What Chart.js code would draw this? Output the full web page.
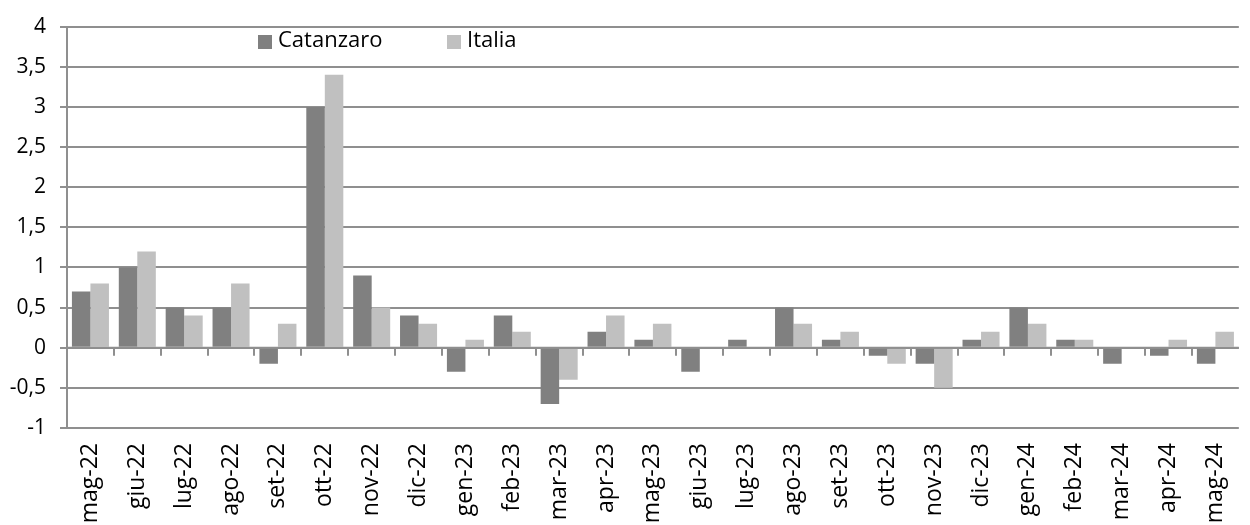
<!DOCTYPE html>
<html>
<head>
<meta charset="utf-8">
<script src="https://cdn.jsdelivr.net/npm/chart.js@4.4.1/dist/chart.umd.min.js"></script>
<style>
html,body{margin:0;padding:0;background:#fff;}
#wrap{width:1250px;height:525px;}
</style>
</head>
<body>
<div id="wrap"><canvas id="c" width="1250" height="525"></canvas></div>
<script>
const categories = ["mag-22","giu-22","lug-22","ago-22","set-22","ott-22","nov-22","dic-22","gen-23","feb-23","mar-23","apr-23","mag-23","giu-23","lug-23","ago-23","set-23","ott-23","nov-23","dic-23","gen-24","feb-24","mar-24","apr-24","mag-24"];
const catanzaro = [0.7,1.0,0.5,0.5,-0.2,3.0,0.9,0.4,-0.3,0.4,-0.7,0.2,0.1,-0.3,0.1,0.5,0.1,-0.1,-0.2,0.1,0.5,0.1,-0.2,-0.1,-0.2];
const italia = [0.8,1.2,0.4,0.8,0.3,3.4,0.5,0.3,0.1,0.2,-0.4,0.4,0.3,0,0,0.3,0.2,-0.2,-0.5,0.2,0.3,0.1,0,0.1,0.2];
const yMin = -1, yMax = 4, yStep = 0.5;

const FONT = "'Open Sans', 'Noto Sans', sans-serif";
const GRID = '#8f8f8f';

const zeroTicks = {
  id: 'zeroTicks',
  afterDatasetsDraw(chart) {
    const {ctx, scales:{x, y}} = chart;
    const y0 = y.getPixelForValue(0);
    ctx.save();
    ctx.strokeStyle = GRID;
    ctx.lineWidth = 2;
    ctx.beginPath();
    ctx.moveTo(chart.chartArea.left, y0);
    ctx.lineTo(chart.chartArea.right, y0);
    for (let i = 1; i < categories.length; i++) {
      const px = Math.round((x.getPixelForValue(i-1) + x.getPixelForValue(i)) / 2);
      ctx.moveTo(px, y0);
      ctx.lineTo(px, y0 + 8);
    }
    ctx.stroke();
    ctx.restore();
  }
};

const innerLegend = {
  id: 'innerLegend',
  afterDraw(chart) {
    const {ctx} = chart;
    const items = chart.data.datasets;
    const pos = [258, 447];
    ctx.save();
    ctx.font = "22px " + FONT;
    ctx.textBaseline = 'middle';
    ctx.fillStyle = '#000';
    items.forEach((ds, i) => {
      ctx.fillStyle = ds.backgroundColor;
      ctx.fillRect(pos[i], 35, 14, 14);
      ctx.fillStyle = '#000';
      ctx.fillText(ds.label, pos[i] + 20, 41);
    });
    ctx.restore();
  }
};

new Chart(document.getElementById('c'), {
  type: 'bar',
  data: {
    labels: categories,
    datasets: [
      {label: 'Catanzaro', data: catanzaro, backgroundColor: '#808080', borderWidth: 0},
      {label: 'Italia', data: italia, backgroundColor: '#c0c0c0', borderWidth: 0}
    ]
  },
  options: {
    responsive: false,
    animation: false,
    layout: {padding: {top: 20, right: 0, left: 0, bottom: 0}},
    categoryPercentage: 0.79,
    barPercentage: 1.0,
    plugins: {legend: {display: false}, tooltip: {enabled: false}},
    scales: {
      x: {
        grid: {display: false},
        border: {display: false},
        ticks: {
          autoSkip: false, maxRotation: 90, minRotation: 90,
          color: '#000', font: {family: FONT, size: 23}, padding: 7
        },
        afterFit(s) { s.height = 97; }
      },
      y: {
        min: yMin, max: yMax,
        grid: {color: GRID, lineWidth: 2, tickLength: 7},
        border: {color: GRID, width: 2},
        ticks: {
          stepSize: yStep, color: '#000', font: {family: FONT, size: 21}, padding: 14,
          callback: v => String(v).replace('.', ',')
        },
        afterFit(s) { s.width = 67; }
      }
    }
  },
  plugins: [zeroTicks, innerLegend]
});
</script>
</body>
</html>
